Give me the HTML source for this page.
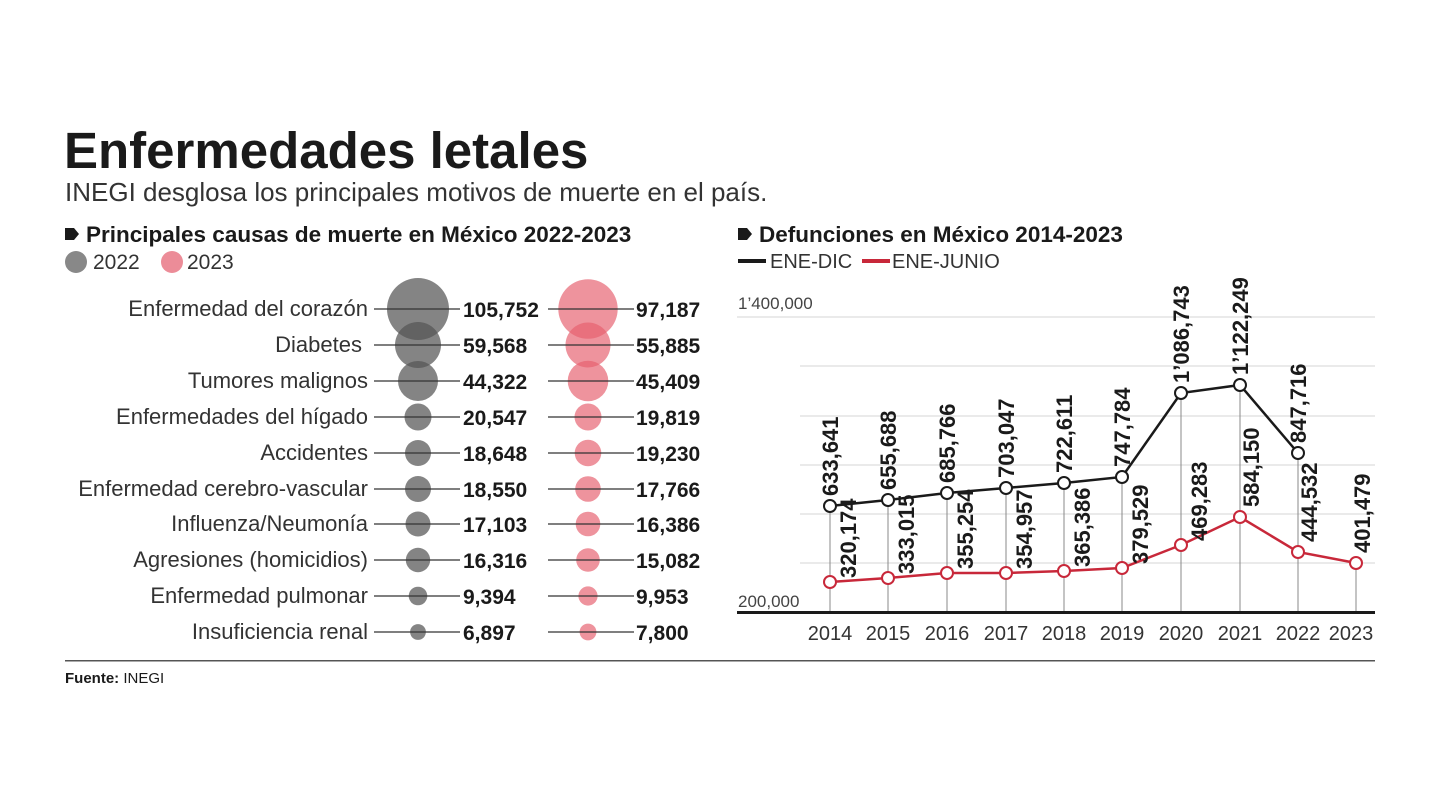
<!DOCTYPE html>
<html><head><meta charset="utf-8"><style>
html,body{margin:0;padding:0;background:#fff;}
svg{display:block;font-family:"Liberation Sans",sans-serif;}
</style></head><body>
<svg width="1440" height="810" viewBox="0 0 1440 810" xmlns="http://www.w3.org/2000/svg">
<rect width="1440" height="810" fill="#fff"/>
<text x="64" y="168" font-size="51" font-weight="bold" fill="#1a1a1a">Enfermedades letales</text>
<text x="65" y="201" font-size="26" fill="#333">INEGI desglosa los principales motivos de muerte en el país.</text>
<path d="M65 228 h9 l5 6 l-5 6 h-9z" fill="#1a1a1a"/>
<text x="86" y="242" font-size="22.5" font-weight="bold" fill="#1a1a1a">Principales causas de muerte en México 2022-2023</text>
<circle cx="76" cy="262" r="11" fill="#888"/>
<text x="93" y="269" font-size="21" fill="#333">2022</text>
<circle cx="172" cy="262" r="11" fill="#ec8c98"/>
<text x="187" y="269" font-size="21" fill="#333">2023</text>
<path d="M738 228 h9 l5 6 l-5 6 h-9z" fill="#1a1a1a"/>
<text x="759" y="242" font-size="22.5" font-weight="bold" fill="#1a1a1a">Defunciones en México 2014-2023</text>
<rect x="738" y="259" width="28" height="4" fill="#1a1a1a"/>
<text x="770" y="268" font-size="20" fill="#333">ENE-DIC</text>
<rect x="862" y="259" width="28" height="4" fill="#c8283a"/>
<text x="892" y="268" font-size="20" fill="#333">ENE-JUNIO</text>
<g id="left" font-size="22">
<g fill="#333" text-anchor="end">
<text x="368" y="316">Enfermedad del corazón</text>
<text x="362" y="352">Diabetes</text>
<text x="368" y="388">Tumores malignos</text>
<text x="368" y="424">Enfermedades del hígado</text>
<text x="368" y="460">Accidentes</text>
<text x="368" y="496">Enfermedad cerebro-vascular</text>
<text x="368" y="531">Influenza/Neumonía</text>
<text x="368" y="567">Agresiones (homicidios)</text>
<text x="368" y="603">Enfermedad pulmonar</text>
<text x="368" y="639">Insuficiencia renal</text>
</g>
<g fill="#555" fill-opacity="0.72">
<circle cx="418" cy="309" r="31"/><circle cx="418" cy="345" r="23"/><circle cx="418" cy="381" r="20"/>
<circle cx="418" cy="417" r="13.5"/><circle cx="418" cy="453" r="13"/><circle cx="418" cy="489" r="13"/>
<circle cx="418" cy="524" r="12.5"/><circle cx="418" cy="560" r="12.2"/><circle cx="418" cy="596" r="9.3"/><circle cx="418" cy="632" r="7.9"/>
</g>
<g fill="#e6606f" fill-opacity="0.68">
<circle cx="588" cy="309" r="29.7"/><circle cx="588" cy="345" r="22.5"/><circle cx="588" cy="381" r="20.3"/>
<circle cx="588" cy="417" r="13.5"/><circle cx="588" cy="453" r="13.3"/><circle cx="588" cy="489" r="12.8"/>
<circle cx="588" cy="524" r="12.3"/><circle cx="588" cy="560" r="11.8"/><circle cx="588" cy="596" r="9.6"/><circle cx="588" cy="632" r="8.4"/>
</g>
<g stroke="#333" stroke-width="1.3">
<path d="M374 309H460M374 345H460M374 381H460M374 417H460M374 453H460M374 489H460M374 524H460M374 560H460M374 596H460M374 632H460"/>
<path d="M548 309H634M548 345H634M548 381H634M548 417H634M548 453H634M548 489H634M548 524H634M548 560H634M548 596H634M548 632H634"/>
</g>
<g fill="#1a1a1a" font-weight="bold" font-size="21">
<text x="463" y="317">105,752</text><text x="463" y="353">59,568</text><text x="463" y="389">44,322</text>
<text x="463" y="425">20,547</text><text x="463" y="461">18,648</text><text x="463" y="497">18,550</text>
<text x="463" y="532">17,103</text><text x="463" y="568">16,316</text><text x="463" y="604">9,394</text><text x="463" y="640">6,897</text>
<text x="636" y="317">97,187</text><text x="636" y="353">55,885</text><text x="636" y="389">45,409</text>
<text x="636" y="425">19,819</text><text x="636" y="461">19,230</text><text x="636" y="497">17,766</text>
<text x="636" y="532">16,386</text><text x="636" y="568">15,082</text><text x="636" y="604">9,953</text><text x="636" y="640">7,800</text>
</g>
</g>
<g id="right">
<g stroke="#ddd" stroke-width="1.3">
<path d="M737 317H1375M800 366H1375M800 416H1375M800 465H1375M800 514H1375M800 563H1375"/>
</g>
<text x="738" y="309" font-size="17" fill="#444">1’400,000</text>
<text x="738" y="607" font-size="17" fill="#444">200,000</text>
<g stroke="#888" stroke-width="1">
<path d="M830 506V612M888 500V612M947 493V612M1006 488V612M1064 483V612M1122 477V612M1181 393V612M1240 385V612M1298 453V612M1356 563V612"/>
</g>
<rect x="737" y="611" width="638" height="3" fill="#1a1a1a"/>
<polyline points="830,506 888,500 947,493 1006,488 1064,483 1122,477 1181,393 1240,385 1298,453" fill="none" stroke="#1a1a1a" stroke-width="2.5"/>
<polyline points="830,582 888,578 947,573 1006,573 1064,571 1122,568 1181,545 1240,517 1298,552 1356,563" fill="none" stroke="#c8283a" stroke-width="2.5"/>
<g fill="#fff" stroke="#1a1a1a" stroke-width="2">
<circle cx="830" cy="506" r="6"/><circle cx="888" cy="500" r="6"/><circle cx="947" cy="493" r="6"/><circle cx="1006" cy="488" r="6"/><circle cx="1064" cy="483" r="6"/><circle cx="1122" cy="477" r="6"/><circle cx="1181" cy="393" r="6"/><circle cx="1240" cy="385" r="6"/><circle cx="1298" cy="453" r="6"/>
</g>
<g fill="#fff" stroke="#c8283a" stroke-width="2">
<circle cx="830" cy="582" r="6"/><circle cx="888" cy="578" r="6"/><circle cx="947" cy="573" r="6"/><circle cx="1006" cy="573" r="6"/><circle cx="1064" cy="571" r="6"/><circle cx="1122" cy="568" r="6"/><circle cx="1181" cy="545" r="6"/><circle cx="1240" cy="517" r="6"/><circle cx="1298" cy="552" r="6"/><circle cx="1356" cy="563" r="6"/>
</g>
<g font-size="22" font-weight="bold" fill="#1a1a1a">
<text transform="translate(838,496) rotate(-90)">633,641</text>
<text transform="translate(896,490) rotate(-90)">655,688</text>
<text transform="translate(955,483) rotate(-90)">685,766</text>
<text transform="translate(1014,478) rotate(-90)">703,047</text>
<text transform="translate(1072,473) rotate(-90)">722,611</text>
<text transform="translate(1130,467) rotate(-90)">747,784</text>
<text transform="translate(1189,383) rotate(-90)">1’086,743</text>
<text transform="translate(1248,375) rotate(-90)">1’122,249</text>
<text transform="translate(1306,443) rotate(-90)">847,716</text>
<text transform="translate(856,578) rotate(-90)">320,174</text>
<text transform="translate(914,574) rotate(-90)">333,015</text>
<text transform="translate(973,569) rotate(-90)">355,254</text>
<text transform="translate(1032,569) rotate(-90)">354,957</text>
<text transform="translate(1090,567) rotate(-90)">365,386</text>
<text transform="translate(1148,564) rotate(-90)">379,529</text>
<text transform="translate(1207,541) rotate(-90)">469,283</text>
<text transform="translate(1259,507) rotate(-90)">584,150</text>
<text transform="translate(1317,542) rotate(-90)">444,532</text>
<text transform="translate(1370,553) rotate(-90)">401,479</text>
</g>
<g font-size="20" fill="#333" text-anchor="middle">
<text x="830" y="640">2014</text><text x="888" y="640">2015</text><text x="947" y="640">2016</text><text x="1006" y="640">2017</text><text x="1064" y="640">2018</text><text x="1122" y="640">2019</text><text x="1181" y="640">2020</text><text x="1240" y="640">2021</text><text x="1298" y="640">2022</text><text x="1351" y="640">2023</text>
</g>
</g>
<rect x="65" y="660" width="1310" height="1.5" fill="#555"/>
<text x="65" y="683" font-size="15" fill="#1a1a1a"><tspan font-weight="bold">Fuente:</tspan> INEGI</text>
</svg>
</body></html>
